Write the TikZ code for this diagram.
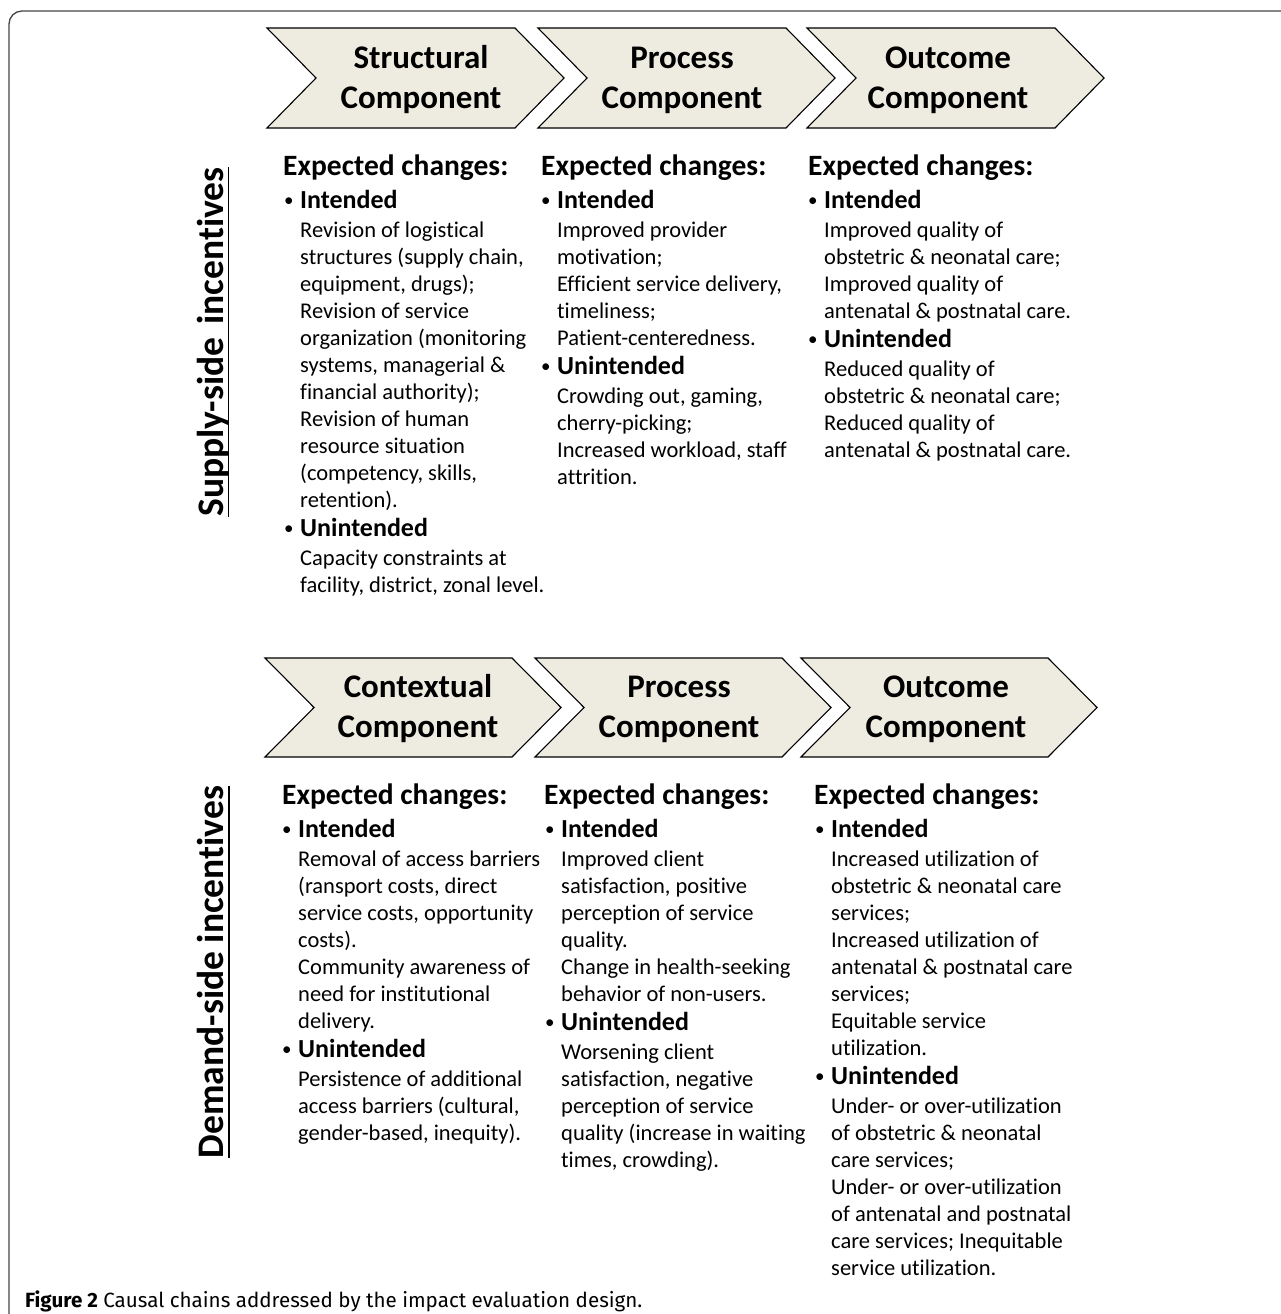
\documentclass[tikz,border=0pt]{standalone}
\usepackage{fontspec}
\setmainfont{Carlito}[Ligatures=NoCommon]
\newfontfamily\capfont{Fira Sans}
\usetikzlibrary{calc}
\definecolor{chevfill}{RGB}{238,236,225}
\definecolor{framegray}{RGB}{70,70,70}
\tikzset{
  chev/.style={draw=black, line width=1.1pt, fill=chevfill, line join=miter},
  chevtext/.style={align=center, inner sep=0pt, font=\bfseries\fontsize{33}{40}\selectfont},
  exph/.style={anchor=base west, inner sep=0pt, font=\bfseries\fontsize{29.5}{35}\selectfont},
  bulh/.style={anchor=base west, inner sep=0pt, font=\bfseries\fontsize{26}{30}\selectfont},
  body/.style={anchor=base west, inner sep=0pt, font=\fontsize{22.5}{27}\selectfont},
  side/.style={rotate=90, anchor=base, inner sep=0pt, font=\bfseries\fontsize{37.5}{45}\selectfont},
  uline/.style={line width=1.6pt, black},
  capstyle/.style={anchor=base west, inner sep=0pt, font=\capfont\fontsize{20.6}{24}\selectfont},
}
\newcommand\chevpath[5]{% x0, top, bottom, W, d
  \filldraw[chev] (#1,#2) -- (#1+#4,#2) -- (#1+#4+#5,{(#2+#3)/2}) -- (#1+#4,#3) -- (#1,#3) -- (#1+#5,{(#2+#3)/2}) -- cycle;}
\newcommand\bodylines[4]{\foreach \tline [count=\k from 0] in {#4}{\node[body] (#1-\k) at (#2,{#3+27*\k}) {\tline};}}
\newcommand\bul[1]{\llap{\raisebox{1.5pt}{\mdseries\fontsize{19}{22}\selectfont\textbullet}\hspace{6.5pt}}#1}

\begin{document}
\begin{tikzpicture}[x=1pt,y=-1pt]
\useasboundingbox (0,0) rectangle (1281,1314);
\fill[white] (0,0) rectangle (1281,1314);

% frame
\draw[framegray, line width=1.3pt, rounded corners=13pt] (9,1314) -- (9,11) -- (1281,11);

% ---------- top chevrons ----------
\chevpath{267}{28}{128}{248}{49}
\chevpath{538}{28}{128}{248}{49}
\chevpath{807}{28}{128}{248}{49}
\node[chevtext] (c1) at (421,80) {Structural\\Component};
\node[chevtext] (c2) at (682,80) {Process\\Component};
\node[chevtext] (c3) at (948,80) {Outcome\\Component};

% ---------- bottom chevrons ----------
\chevpath{265}{658}{757}{247}{49}
\chevpath{535}{658}{757}{247}{49}
\chevpath{801}{658}{757}{247}{49}
\node[chevtext] (c4) at (418,709) {Contextual\\Component};
\node[chevtext] (c5) at (679,709) {Process\\Component};
\node[chevtext] (c6) at (946,709) {Outcome\\Component};

% ---------- side labels ----------
\node[side] (sup) at (223,342) {Supply-side\hspace{0.35em}incentives};
\draw[uline] ($(sup.base west)+(5.5,0)$) -- ($(sup.base east)+(5.5,0)$);
\node[side] (dem) at (223,972) {Demand-side incentives};
\draw[uline] ($(dem.base west)+(6,0)$) -- ($(dem.base east)+(6,0)$);

% ---------- supply column 1 ----------
\node[exph] (s1e) at (283,175) {Expected changes:};
\node[bulh] (s1i) at (300,208) {\bul{Intended}};
\bodylines{s1a}{300}{237}{Revision of logistical,{structures (supply chain,},{equipment, drugs);},Revision of service,organization (monitoring,{systems, managerial \&},financial authority);,Revision of human,resource situation,{(competency, skills,},retention).}
\node[bulh] (s1u) at (300,536) {\bul{Unintended}};
\bodylines{s1b}{300}{565}{Capacity constraints at,{facility, district, zonal level.}}

% ---------- supply column 2 ----------
\node[exph] (s2e) at (541,175) {Expected changes:};
\node[bulh] (s2i) at (557,208) {\bul{Intended}};
\bodylines{s2a}{557}{237}{Improved provider,motivation;,{Efficient service delivery,},timeliness;,Patient-centeredness.}
\node[bulh] (s2u) at (557,374) {\bul{Unintended}};
\bodylines{s2b}{557}{403}{{Crowding out, gaming,},cherry-picking;,{Increased workload, staff},attrition.}

% ---------- supply column 3 ----------
\node[exph] (s3e) at (808,175) {Expected changes:};
\node[bulh] (s3i) at (824,208) {\bul{Intended}};
\bodylines{s3a}{824}{237}{Improved quality of,obstetric \& neonatal care;,Improved quality of,antenatal \& postnatal care.}
\node[bulh] (s3u) at (824,347) {\bul{Unintended}};
\bodylines{s3b}{824}{376}{Reduced quality of,obstetric \& neonatal care;,Reduced quality of,antenatal \& postnatal care.}

% ---------- demand column 1 ----------
\node[exph] (d1e) at (282,804) {Expected changes:};
\node[bulh] (d1i) at (298,837) {\bul{Intended}};
\bodylines{d1a}{298}{866}{Removal of access barriers,{(ransport costs, direct},{service costs, opportunity},costs).,Community awareness of,need for institutional,delivery.}
\node[bulh] (d1u) at (298,1057) {\bul{Unintended}};
\bodylines{d1b}{298}{1086}{Persistence of additional,{access barriers (cultural,},{gender-based, inequity).}}

% ---------- demand column 2 ----------
\node[exph] (d2e) at (544,804) {Expected changes:};
\node[bulh] (d2i) at (561,837) {\bul{Intended}};
\bodylines{d2a}{561}{866}{Improved client,{satisfaction, positive},perception of service,quality.,Change in health-seeking,behavior of non-users.}
\node[bulh] (d2u) at (561,1030) {\bul{Unintended}};
\bodylines{d2b}{561}{1059}{Worsening client,{satisfaction, negative},perception of service,quality (increase in waiting,{times, crowding).}}

% ---------- demand column 3 ----------
\node[exph] (d3e) at (814,804) {Expected changes:};
\node[bulh] (d3i) at (831,837) {\bul{Intended}};
\bodylines{d3a}{831}{866}{Increased utilization of,obstetric \& neonatal care,services;,Increased utilization of,antenatal \& postnatal care,services;,Equitable service,utilization.}
\node[bulh] (d3u) at (831,1084) {\bul{Unintended}};
\bodylines{d3b}{831}{1113}{Under- or over-utilization,of obstetric \& neonatal,care services;,Under- or over-utilization,of antenatal and postnatal,care services; Inequitable,service utilization.}

% ---------- caption ----------
\node[capstyle] (capt) at (25,1307) {\textbf{Figure 2} Causal chains addressed by the impact evaluation design.};
\end{tikzpicture}
\end{document}
